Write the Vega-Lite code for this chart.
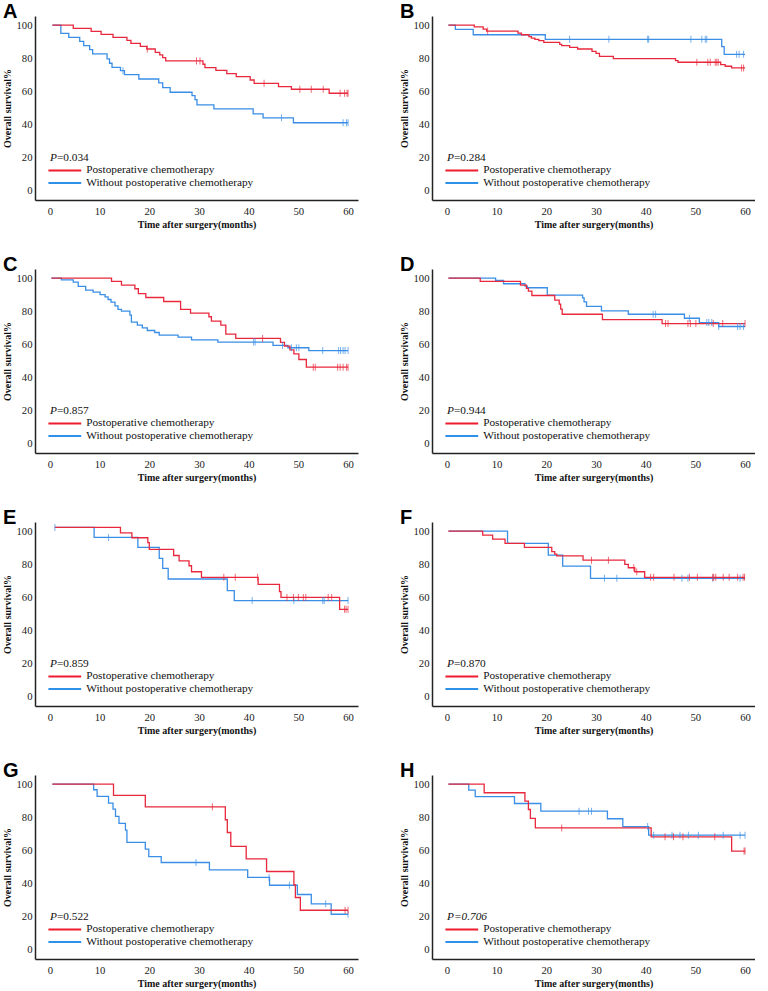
{
"$schema":"https://vega.github.io/schema/vega-lite/v6.json",
"padding":{"left":2,"top":2,"right":0,"bottom":0},
"background":"white",
"columns":2,
"spacing":{"row":25,"column":41},
"config":{
 "view":{"stroke":null},
 "axis":{"domainColor":"#222","domainWidth":1.5,"ticks":false,"grid":false,"labelOverlap":false,"labelFont":"Liberation Serif","labelFontSize":10.7,"labelColor":"#222","titleFont":"Liberation Serif","titleFontWeight":"bold","titleFontSize":10,"titleColor":"#111"},
 "axisY":{"labelPadding":3,"titlePadding":3},
 "axisX":{"labelPadding":6,"titlePadding":4},
 "title":{"anchor":"start","frame":"bounds","font":"Liberation Sans","fontSize":20,"fontWeight":"bold","color":"#000","offset":-6,"dx":0},
 "text":{"font":"Liberation Serif","fontSize":11.3,"baseline":"middle","align":"left","color":"#111"},
 "line":{"strokeWidth":1.3},
 "tick":{"size":7,"thickness":1},
 "rule":{"strokeWidth":2}
},
"datasets":{
"curves":[
{"p":"A","g":"none","t":0.5,"s":100},{"p":"A","g":"none","t":2.2,"s":95},{"p":"A","g":"none","t":3.8,"s":92.6},{"p":"A","g":"none","t":6,"s":90.2},{"p":"A","g":"none","t":6.8,"s":87.6},{"p":"A","g":"none","t":8,"s":85.2},{"p":"A","g":"none","t":8.6,"s":82.6},{"p":"A","g":"none","t":11.5,"s":79.6},{"p":"A","g":"none","t":12,"s":77},{"p":"A","g":"none","t":12.5,"s":74.5},{"p":"A","g":"none","t":14.2,"s":72.5},{"p":"A","g":"none","t":15,"s":70.1},{"p":"A","g":"none","t":17.9,"s":67.5},{"p":"A","g":"none","t":21.9,"s":65.1},{"p":"A","g":"none","t":22.7,"s":62.3},{"p":"A","g":"none","t":24.2,"s":59.5},{"p":"A","g":"none","t":28.6,"s":57.5},{"p":"A","g":"none","t":29.2,"s":55.1},{"p":"A","g":"none","t":29.6,"s":51.9},{"p":"A","g":"none","t":33,"s":49.5},{"p":"A","g":"none","t":40.9,"s":46.5},{"p":"A","g":"none","t":42.9,"s":44.1},{"p":"A","g":"none","t":49,"s":41.1},{"p":"A","g":"none","t":60,"s":41.1},
{"p":"A","g":"chemo","t":0.5,"s":100},{"p":"A","g":"chemo","t":4.7,"s":98},{"p":"A","g":"chemo","t":8.3,"s":96.2},{"p":"A","g":"chemo","t":10.3,"s":94.4},{"p":"A","g":"chemo","t":12.7,"s":92.6},{"p":"A","g":"chemo","t":15.5,"s":90.8},{"p":"A","g":"chemo","t":16.3,"s":89},{"p":"A","g":"chemo","t":18.2,"s":87.2},{"p":"A","g":"chemo","t":19.5,"s":85.6},{"p":"A","g":"chemo","t":21.2,"s":83.6},{"p":"A","g":"chemo","t":22.1,"s":82},{"p":"A","g":"chemo","t":22.7,"s":80.4},{"p":"A","g":"chemo","t":23.3,"s":78.4},{"p":"A","g":"chemo","t":30.8,"s":76.4},{"p":"A","g":"chemo","t":31.2,"s":74.4},{"p":"A","g":"chemo","t":33.4,"s":72.7},{"p":"A","g":"chemo","t":35.6,"s":70.7},{"p":"A","g":"chemo","t":37.5,"s":68.9},{"p":"A","g":"chemo","t":40.3,"s":66.9},{"p":"A","g":"chemo","t":41.1,"s":64.9},{"p":"A","g":"chemo","t":46,"s":62.9},{"p":"A","g":"chemo","t":48.6,"s":61.3},{"p":"A","g":"chemo","t":56.2,"s":58.9},{"p":"A","g":"chemo","t":60,"s":58.9},
{"p":"B","g":"none","t":0.3,"s":100},{"p":"B","g":"none","t":1.7,"s":97.4},{"p":"B","g":"none","t":5.3,"s":94.2},{"p":"B","g":"none","t":19.8,"s":91.4},{"p":"B","g":"none","t":55.3,"s":87},{"p":"B","g":"none","t":55.8,"s":82.4},{"p":"B","g":"none","t":60,"s":82.4},
{"p":"B","g":"chemo","t":0.3,"s":100},{"p":"B","g":"chemo","t":5.5,"s":99},{"p":"B","g":"chemo","t":7.3,"s":97.6},{"p":"B","g":"chemo","t":8,"s":96.4},{"p":"B","g":"chemo","t":14.3,"s":95.2},{"p":"B","g":"chemo","t":15,"s":94.2},{"p":"B","g":"chemo","t":16.5,"s":93},{"p":"B","g":"chemo","t":17,"s":92.2},{"p":"B","g":"chemo","t":17.7,"s":91.4},{"p":"B","g":"chemo","t":18.5,"s":90.6},{"p":"B","g":"chemo","t":19.5,"s":89.6},{"p":"B","g":"chemo","t":22.7,"s":88.4},{"p":"B","g":"chemo","t":23.1,"s":87.6},{"p":"B","g":"chemo","t":24.7,"s":86.6},{"p":"B","g":"chemo","t":26.3,"s":85.6},{"p":"B","g":"chemo","t":29.2,"s":84.2},{"p":"B","g":"chemo","t":30,"s":83},{"p":"B","g":"chemo","t":30.7,"s":81.2},{"p":"B","g":"chemo","t":33.5,"s":79.8},{"p":"B","g":"chemo","t":46,"s":78.6},{"p":"B","g":"chemo","t":46.5,"s":77.6},{"p":"B","g":"chemo","t":55.1,"s":76.2},{"p":"B","g":"chemo","t":56,"s":75.2},{"p":"B","g":"chemo","t":57.3,"s":74.2},{"p":"B","g":"chemo","t":60,"s":74.2},
{"p":"C","g":"none","t":0.3,"s":100},{"p":"C","g":"none","t":2.3,"s":99},{"p":"C","g":"none","t":4.7,"s":97.6},{"p":"C","g":"none","t":5.7,"s":95},{"p":"C","g":"none","t":7.2,"s":92.8},{"p":"C","g":"none","t":8.7,"s":91.5},{"p":"C","g":"none","t":10.1,"s":90.1},{"p":"C","g":"none","t":11.1,"s":88.7},{"p":"C","g":"none","t":11.7,"s":87.1},{"p":"C","g":"none","t":12.3,"s":85.5},{"p":"C","g":"none","t":13.1,"s":83.3},{"p":"C","g":"none","t":13.7,"s":81.1},{"p":"C","g":"none","t":14.4,"s":80.1},{"p":"C","g":"none","t":16.1,"s":77.7},{"p":"C","g":"none","t":16.4,"s":73.4},{"p":"C","g":"none","t":17.6,"s":71.6},{"p":"C","g":"none","t":18.6,"s":70},{"p":"C","g":"none","t":19.6,"s":68.4},{"p":"C","g":"none","t":21.1,"s":67.2},{"p":"C","g":"none","t":22,"s":65.6},{"p":"C","g":"none","t":25.8,"s":64.4},{"p":"C","g":"none","t":28.5,"s":62.8},{"p":"C","g":"none","t":33.8,"s":61.4},{"p":"C","g":"none","t":44.9,"s":59.4},{"p":"C","g":"none","t":47.9,"s":58},{"p":"C","g":"none","t":52.1,"s":56.3},{"p":"C","g":"none","t":60,"s":56.3},
{"p":"C","g":"chemo","t":0.3,"s":100},{"p":"C","g":"chemo","t":12.4,"s":98},{"p":"C","g":"chemo","t":14.4,"s":95.8},{"p":"C","g":"chemo","t":17.1,"s":93.6},{"p":"C","g":"chemo","t":17.8,"s":90.7},{"p":"C","g":"chemo","t":19.3,"s":88.3},{"p":"C","g":"chemo","t":22.9,"s":85.9},{"p":"C","g":"chemo","t":26.3,"s":81.1},{"p":"C","g":"chemo","t":28.3,"s":78.9},{"p":"C","g":"chemo","t":32,"s":76.7},{"p":"C","g":"chemo","t":32.5,"s":74},{"p":"C","g":"chemo","t":34.4,"s":71.6},{"p":"C","g":"chemo","t":35.4,"s":66.2},{"p":"C","g":"chemo","t":37.4,"s":63.6},{"p":"C","g":"chemo","t":46.4,"s":61.2},{"p":"C","g":"chemo","t":47.2,"s":59},{"p":"C","g":"chemo","t":48.3,"s":56.7},{"p":"C","g":"chemo","t":49.1,"s":54.3},{"p":"C","g":"chemo","t":50.1,"s":50.9},{"p":"C","g":"chemo","t":51.6,"s":46.3},{"p":"C","g":"chemo","t":60,"s":46.3},
{"p":"D","g":"none","t":0.3,"s":100},{"p":"D","g":"none","t":9.8,"s":98.6},{"p":"D","g":"none","t":11.4,"s":96.6},{"p":"D","g":"none","t":15.7,"s":95.2},{"p":"D","g":"none","t":16.2,"s":94.2},{"p":"D","g":"none","t":20.2,"s":89.7},{"p":"D","g":"none","t":27.3,"s":88.1},{"p":"D","g":"none","t":27.6,"s":85.7},{"p":"D","g":"none","t":28.1,"s":82.9},{"p":"D","g":"none","t":31.1,"s":80.2},{"p":"D","g":"none","t":36.5,"s":78.2},{"p":"D","g":"none","t":47.8,"s":75.8},{"p":"D","g":"none","t":50.8,"s":73.2},{"p":"D","g":"none","t":54.7,"s":70.8},{"p":"D","g":"none","t":60,"s":70.8},
{"p":"D","g":"chemo","t":0.3,"s":100},{"p":"D","g":"chemo","t":6.7,"s":98},{"p":"D","g":"chemo","t":14.8,"s":95.8},{"p":"D","g":"chemo","t":16,"s":93.8},{"p":"D","g":"chemo","t":16.4,"s":92.1},{"p":"D","g":"chemo","t":17.1,"s":89.5},{"p":"D","g":"chemo","t":21.7,"s":86.7},{"p":"D","g":"chemo","t":22.6,"s":84.3},{"p":"D","g":"chemo","t":22.9,"s":81.3},{"p":"D","g":"chemo","t":23.2,"s":78.2},{"p":"D","g":"chemo","t":31.3,"s":75},{"p":"D","g":"chemo","t":43.3,"s":72.6},{"p":"D","g":"chemo","t":60,"s":72.6},
{"p":"E","g":"none","t":1,"s":102.2},{"p":"E","g":"none","t":8.9,"s":96.2},{"p":"E","g":"none","t":17.7,"s":90.2},{"p":"E","g":"none","t":22,"s":83.5},{"p":"E","g":"none","t":22.7,"s":77.5},{"p":"E","g":"none","t":23.8,"s":71.1},{"p":"E","g":"none","t":35.7,"s":64.1},{"p":"E","g":"none","t":37.1,"s":58.1},{"p":"E","g":"none","t":60,"s":58.1},
{"p":"E","g":"chemo","t":1,"s":102.2},{"p":"E","g":"chemo","t":14.2,"s":99},{"p":"E","g":"chemo","t":16.5,"s":96},{"p":"E","g":"chemo","t":19.7,"s":93},{"p":"E","g":"chemo","t":20,"s":89},{"p":"E","g":"chemo","t":24.9,"s":85.3},{"p":"E","g":"chemo","t":26,"s":82.1},{"p":"E","g":"chemo","t":28,"s":79.1},{"p":"E","g":"chemo","t":28.5,"s":75.5},{"p":"E","g":"chemo","t":30.5,"s":72.1},{"p":"E","g":"chemo","t":41.9,"s":67.9},{"p":"E","g":"chemo","t":46.2,"s":63.5},{"p":"E","g":"chemo","t":46.5,"s":60},{"p":"E","g":"chemo","t":58.3,"s":52.8},{"p":"E","g":"chemo","t":60,"s":52.8},
{"p":"F","g":"none","t":0.3,"s":100},{"p":"F","g":"none","t":12.2,"s":92.6},{"p":"F","g":"none","t":20.4,"s":85.5},{"p":"F","g":"none","t":23.3,"s":78.9},{"p":"F","g":"none","t":28.9,"s":71.5},{"p":"F","g":"none","t":60,"s":71.5},
{"p":"F","g":"chemo","t":0.3,"s":100},{"p":"F","g":"chemo","t":7.2,"s":97.6},{"p":"F","g":"chemo","t":9.2,"s":95.2},{"p":"F","g":"chemo","t":11.7,"s":92.6},{"p":"F","g":"chemo","t":15.6,"s":90.2},{"p":"F","g":"chemo","t":21.1,"s":87.6},{"p":"F","g":"chemo","t":21.7,"s":86.1},{"p":"F","g":"chemo","t":22.1,"s":85.1},{"p":"F","g":"chemo","t":27.4,"s":82.5},{"p":"F","g":"chemo","t":35.8,"s":79.9},{"p":"F","g":"chemo","t":36.5,"s":77.9},{"p":"F","g":"chemo","t":37.8,"s":75.5},{"p":"F","g":"chemo","t":39.8,"s":72.1},{"p":"F","g":"chemo","t":60,"s":72.1},
{"p":"G","g":"none","t":0.5,"s":100},{"p":"G","g":"none","t":8.8,"s":96.6},{"p":"G","g":"none","t":9.5,"s":92.6},{"p":"G","g":"none","t":11.8,"s":88.5},{"p":"G","g":"none","t":12.7,"s":84.9},{"p":"G","g":"none","t":13.2,"s":80.5},{"p":"G","g":"none","t":13.9,"s":76.3},{"p":"G","g":"none","t":15.2,"s":72.2},{"p":"G","g":"none","t":15.5,"s":64.8},{"p":"G","g":"none","t":19.2,"s":60.8},{"p":"G","g":"none","t":19.9,"s":56.3},{"p":"G","g":"none","t":22.4,"s":52.7},{"p":"G","g":"none","t":32.1,"s":48.3},{"p":"G","g":"none","t":39.8,"s":43.7},{"p":"G","g":"none","t":44.2,"s":39},{"p":"G","g":"none","t":49.8,"s":33.4},{"p":"G","g":"none","t":52.6,"s":27.8},{"p":"G","g":"none","t":56.6,"s":21.5},{"p":"G","g":"none","t":60,"s":21.5},
{"p":"G","g":"chemo","t":0.5,"s":100},{"p":"G","g":"chemo","t":12.8,"s":93.2},{"p":"G","g":"chemo","t":19.2,"s":86.3},{"p":"G","g":"chemo","t":35.3,"s":78.5},{"p":"G","g":"chemo","t":35.7,"s":70.8},{"p":"G","g":"chemo","t":36.4,"s":62.4},{"p":"G","g":"chemo","t":39.5,"s":54.9},{"p":"G","g":"chemo","t":43.6,"s":47.3},{"p":"G","g":"chemo","t":49.1,"s":39.2},{"p":"G","g":"chemo","t":49.4,"s":31.6},{"p":"G","g":"chemo","t":50.4,"s":23.9},{"p":"G","g":"chemo","t":60,"s":23.9},
{"p":"H","g":"none","t":0.3,"s":100},{"p":"H","g":"none","t":4.4,"s":96.4},{"p":"H","g":"none","t":5.7,"s":92.4},{"p":"H","g":"none","t":13.6,"s":88.3},{"p":"H","g":"none","t":18.9,"s":83.7},{"p":"H","g":"none","t":32.3,"s":79.1},{"p":"H","g":"none","t":35.4,"s":74.4},{"p":"H","g":"none","t":40.6,"s":69.2},{"p":"H","g":"none","t":60,"s":69.2},
{"p":"H","g":"chemo","t":0.3,"s":100},{"p":"H","g":"chemo","t":7.5,"s":94.8},{"p":"H","g":"chemo","t":15.7,"s":89.7},{"p":"H","g":"chemo","t":16.4,"s":84.7},{"p":"H","g":"chemo","t":16.8,"s":79.3},{"p":"H","g":"chemo","t":17.8,"s":73.6},{"p":"H","g":"chemo","t":41.1,"s":68.2},{"p":"H","g":"chemo","t":57.3,"s":59.6},{"p":"H","g":"chemo","t":60,"s":59.6}
],
"censors":[
{"p":"A","g":"none","t":14.7,"s":72.5},{"p":"A","g":"none","t":46.6,"s":44.1},{"p":"A","g":"none","t":59,"s":41.1},{"p":"A","g":"none","t":59.7,"s":41.1},{"p":"A","g":"none","t":60,"s":41.1},
{"p":"A","g":"chemo","t":19.6,"s":85.6},{"p":"A","g":"chemo","t":29.5,"s":78.4},{"p":"A","g":"chemo","t":30.2,"s":78.4},{"p":"A","g":"chemo","t":43.1,"s":64.9},{"p":"A","g":"chemo","t":50.3,"s":61.3},{"p":"A","g":"chemo","t":52.6,"s":61.3},{"p":"A","g":"chemo","t":55,"s":61.3},{"p":"A","g":"chemo","t":58.4,"s":58.9},{"p":"A","g":"chemo","t":59.3,"s":58.9},{"p":"A","g":"chemo","t":59.8,"s":58.9},{"p":"A","g":"chemo","t":60,"s":58.9},
{"p":"B","g":"none","t":24.7,"s":91.4},{"p":"B","g":"none","t":32.6,"s":91.4},{"p":"B","g":"none","t":40.4,"s":91.4},{"p":"B","g":"none","t":40.6,"s":91.4},{"p":"B","g":"none","t":49.1,"s":91.4},{"p":"B","g":"none","t":51.3,"s":91.4},{"p":"B","g":"none","t":52,"s":91.4},{"p":"B","g":"none","t":52.3,"s":91.4},{"p":"B","g":"none","t":58.3,"s":82.4},{"p":"B","g":"none","t":58.8,"s":82.4},{"p":"B","g":"none","t":59.7,"s":82.4},
{"p":"B","g":"chemo","t":8.2,"s":96.4},{"p":"B","g":"chemo","t":50.3,"s":77.6},{"p":"B","g":"chemo","t":52.5,"s":77.6},{"p":"B","g":"chemo","t":53,"s":77.6},{"p":"B","g":"chemo","t":54,"s":77.6},{"p":"B","g":"chemo","t":54.3,"s":77.6},{"p":"B","g":"chemo","t":54.6,"s":77.6},{"p":"B","g":"chemo","t":59.3,"s":74.2},{"p":"B","g":"chemo","t":59.7,"s":74.2},
{"p":"C","g":"none","t":41,"s":61.4},{"p":"C","g":"none","t":41.3,"s":61.4},{"p":"C","g":"none","t":46.8,"s":59.4},{"p":"C","g":"none","t":48.6,"s":58},{"p":"C","g":"none","t":49.6,"s":58},{"p":"C","g":"none","t":50.1,"s":58},{"p":"C","g":"none","t":54.9,"s":56.3},{"p":"C","g":"none","t":58.1,"s":56.3},{"p":"C","g":"none","t":58.5,"s":56.3},{"p":"C","g":"none","t":59,"s":56.3},{"p":"C","g":"none","t":59.4,"s":56.3},{"p":"C","g":"none","t":60,"s":56.3},
{"p":"C","g":"chemo","t":42.8,"s":63.6},{"p":"C","g":"chemo","t":53,"s":46.3},{"p":"C","g":"chemo","t":53.4,"s":46.3},{"p":"C","g":"chemo","t":57.9,"s":46.3},{"p":"C","g":"chemo","t":58.4,"s":46.3},{"p":"C","g":"chemo","t":59,"s":46.3},{"p":"C","g":"chemo","t":59.7,"s":46.3},{"p":"C","g":"chemo","t":60,"s":46.3},
{"p":"D","g":"none","t":41.5,"s":78.2},{"p":"D","g":"none","t":42,"s":78.2},{"p":"D","g":"none","t":48.8,"s":75.8},{"p":"D","g":"none","t":52.3,"s":73.2},{"p":"D","g":"none","t":52.7,"s":73.2},{"p":"D","g":"none","t":53.3,"s":73.2},{"p":"D","g":"none","t":54.7,"s":70.8},{"p":"D","g":"none","t":58.5,"s":70.8},{"p":"D","g":"none","t":59,"s":70.8},{"p":"D","g":"none","t":59.7,"s":70.8},
{"p":"D","g":"chemo","t":44,"s":72.6},{"p":"D","g":"chemo","t":44.5,"s":72.6},{"p":"D","g":"chemo","t":48.5,"s":72.6},{"p":"D","g":"chemo","t":49,"s":72.6},{"p":"D","g":"chemo","t":50.1,"s":72.6},{"p":"D","g":"chemo","t":53.6,"s":72.6},{"p":"D","g":"chemo","t":55.5,"s":72.6},{"p":"D","g":"chemo","t":60,"s":72.6},
{"p":"E","g":"none","t":1,"s":102.2},{"p":"E","g":"none","t":11.8,"s":96.2},{"p":"E","g":"none","t":40.7,"s":58.1},{"p":"E","g":"none","t":49.1,"s":58.1},{"p":"E","g":"none","t":54.9,"s":58.1},{"p":"E","g":"none","t":55.2,"s":58.1},{"p":"E","g":"none","t":60,"s":58.1},
{"p":"E","g":"chemo","t":35,"s":72.1},{"p":"E","g":"chemo","t":37.3,"s":72.1},{"p":"E","g":"chemo","t":41.8,"s":72.1},{"p":"E","g":"chemo","t":47.7,"s":60},{"p":"E","g":"chemo","t":49,"s":60},{"p":"E","g":"chemo","t":50,"s":60},{"p":"E","g":"chemo","t":51,"s":60},{"p":"E","g":"chemo","t":51.5,"s":60},{"p":"E","g":"chemo","t":56,"s":60},{"p":"E","g":"chemo","t":56.7,"s":60},{"p":"E","g":"chemo","t":59.3,"s":52.8},{"p":"E","g":"chemo","t":59.6,"s":52.8},{"p":"E","g":"chemo","t":60,"s":52.8},
{"p":"F","g":"none","t":31.7,"s":71.5},{"p":"F","g":"none","t":34.2,"s":71.5},{"p":"F","g":"none","t":47.3,"s":71.5},{"p":"F","g":"none","t":48.5,"s":71.5},{"p":"F","g":"none","t":53.5,"s":71.5},{"p":"F","g":"none","t":59,"s":71.5},
{"p":"F","g":"chemo","t":29.1,"s":82.5},{"p":"F","g":"chemo","t":32.5,"s":82.5},{"p":"F","g":"chemo","t":37.6,"s":77.9},{"p":"F","g":"chemo","t":38.2,"s":75.5},{"p":"F","g":"chemo","t":41,"s":72.1},{"p":"F","g":"chemo","t":41.6,"s":72.1},{"p":"F","g":"chemo","t":45.7,"s":72.1},{"p":"F","g":"chemo","t":48.8,"s":72.1},{"p":"F","g":"chemo","t":50.4,"s":72.1},{"p":"F","g":"chemo","t":53.5,"s":72.1},{"p":"F","g":"chemo","t":53.7,"s":72.1},{"p":"F","g":"chemo","t":54.1,"s":72.1},{"p":"F","g":"chemo","t":55.6,"s":72.1},{"p":"F","g":"chemo","t":56.8,"s":72.1},{"p":"F","g":"chemo","t":58.5,"s":72.1},{"p":"F","g":"chemo","t":59.6,"s":72.1},{"p":"F","g":"chemo","t":59.9,"s":72.1},
{"p":"G","g":"none","t":29.4,"s":52.7},{"p":"G","g":"none","t":44.1,"s":43.7},{"p":"G","g":"none","t":48.2,"s":39},{"p":"G","g":"none","t":55.5,"s":27.8},{"p":"G","g":"none","t":60,"s":21.5},
{"p":"G","g":"chemo","t":32.7,"s":86.3},{"p":"G","g":"chemo","t":59.4,"s":23.9},{"p":"G","g":"chemo","t":60,"s":23.9},
{"p":"H","g":"none","t":26.6,"s":83.7},{"p":"H","g":"none","t":28.5,"s":83.7},{"p":"H","g":"none","t":29.1,"s":83.7},{"p":"H","g":"none","t":40.4,"s":74.4},{"p":"H","g":"none","t":41.6,"s":69.2},{"p":"H","g":"none","t":45.3,"s":69.2},{"p":"H","g":"none","t":46.9,"s":69.2},{"p":"H","g":"none","t":48.6,"s":69.2},{"p":"H","g":"none","t":50.6,"s":69.2},{"p":"H","g":"none","t":55.6,"s":69.2},{"p":"H","g":"none","t":59,"s":69.2},{"p":"H","g":"none","t":60,"s":69.2},
{"p":"H","g":"chemo","t":23.1,"s":73.6},{"p":"H","g":"chemo","t":43.9,"s":68.2},{"p":"H","g":"chemo","t":45.6,"s":68.2},{"p":"H","g":"chemo","t":47.5,"s":68.2},{"p":"H","g":"chemo","t":53.9,"s":68.2},{"p":"H","g":"chemo","t":59.8,"s":59.6},{"p":"H","g":"chemo","t":60,"s":59.6}
],
"labels":[
{"p":"A","pv":"=0.034"},{"p":"B","pv":"=0.284"},{"p":"C","pv":"=0.857"},{"p":"D","pv":"=0.944"},
{"p":"E","pv":"=0.859"},{"p":"F","pv":"=0.870"},{"p":"G","pv":"=0.522"},{"p":"H","pv":"=0.706"}
]
},
"concat":[
{"title":"A","width":323,"height":184,
 "layer":[
  {"data":{"name":"curves"},"transform":[{"filter":"datum.p==='A'"}],"mark":{"type":"line","interpolate":"step-after"},
   "encoding":{"x":{"field":"t","type":"quantitative","scale":{"domain":[-3,62],"nice":false,"zero":false},"axis":{"title":"Time after surgery(months)","values":[0,10,20,30,40,50,60]}},"y":{"field":"s","type":"quantitative","scale":{"domain":[-5.5,105.5],"nice":false,"zero":false},"axis":{"title":"Overall survival%","values":[0,20,40,60,80,100]}},"color":{"field":"g","type":"nominal","scale":{"domain":["chemo","none"],"range":["#e8283c","#3a8ee6"]},"legend":null}}},
  {"data":{"name":"censors"},"transform":[{"filter":"datum.p==='A'"}],"mark":{"type":"tick","orient":"vertical"},
   "encoding":{"x":{"field":"t","type":"quantitative","axis":{"title":"Time after surgery(months)","values":[0,10,20,30,40,50,60]}},"y":{"field":"s","type":"quantitative","axis":{"title":"Overall survival%","values":[0,20,40,60,80,100]}},"color":{"field":"g","type":"nominal","legend":null}}},
  {"data":{"name":"labels"},"transform":[{"filter":"datum.p==='A'"}],"mark":{"type":"text","fontStyle":"italic"},"encoding":{"x":{"datum":0,"type":"quantitative","axis":{"title":"Time after surgery(months)","values":[0,10,20,30,40,50,60]}},"y":{"datum":20,"type":"quantitative","axis":{"title":"Overall survival%","values":[0,20,40,60,80,100]}},"text":{"value":"P"}}},
  {"data":{"name":"labels"},"transform":[{"filter":"datum.p==='A'"}],"mark":{"type":"text","dx":7},"encoding":{"x":{"datum":0,"type":"quantitative","axis":{"title":"Time after surgery(months)","values":[0,10,20,30,40,50,60]}},"y":{"datum":20,"type":"quantitative","axis":{"title":"Overall survival%","values":[0,20,40,60,80,100]}},"text":{"field":"pv"}}},
  {"data":{"name":"labels"},"transform":[{"filter":"datum.p==='A'"}],"mark":{"type":"rule","color":"#ee1c2e"},"encoding":{"x":{"datum":-0.3,"type":"quantitative","axis":{"title":"Time after surgery(months)","values":[0,10,20,30,40,50,60]}},"x2":{"datum":6.3},"y":{"datum":12.3,"type":"quantitative","axis":{"title":"Overall survival%","values":[0,20,40,60,80,100]}}}},
  {"data":{"name":"labels"},"transform":[{"filter":"datum.p==='A'"}],"mark":{"type":"rule","color":"#2e90e8"},"encoding":{"x":{"datum":-0.3,"type":"quantitative","axis":{"title":"Time after surgery(months)","values":[0,10,20,30,40,50,60]}},"x2":{"datum":6.3},"y":{"datum":4.7,"type":"quantitative","axis":{"title":"Overall survival%","values":[0,20,40,60,80,100]}}}},
  {"data":{"name":"labels"},"transform":[{"filter":"datum.p==='A'"}],"mark":{"type":"text"},"encoding":{"x":{"datum":7.3,"type":"quantitative","axis":{"title":"Time after surgery(months)","values":[0,10,20,30,40,50,60]}},"y":{"datum":12.3,"type":"quantitative","axis":{"title":"Overall survival%","values":[0,20,40,60,80,100]}},"text":{"value":"Postoperative chemotherapy"}}},
  {"data":{"name":"labels"},"transform":[{"filter":"datum.p==='A'"}],"mark":{"type":"text"},"encoding":{"x":{"datum":7.3,"type":"quantitative","axis":{"title":"Time after surgery(months)","values":[0,10,20,30,40,50,60]}},"y":{"datum":4.7,"type":"quantitative","axis":{"title":"Overall survival%","values":[0,20,40,60,80,100]}},"text":{"value":"Without postoperative chemotherapy"}}}
 ]},
{"title":"B","width":323,"height":184,
 "layer":[
  {"data":{"name":"curves"},"transform":[{"filter":"datum.p==='B'"}],"mark":{"type":"line","interpolate":"step-after"},
   "encoding":{"x":{"field":"t","type":"quantitative","scale":{"domain":[-3,62],"nice":false,"zero":false},"axis":{"title":"Time after surgery(months)","values":[0,10,20,30,40,50,60]}},"y":{"field":"s","type":"quantitative","scale":{"domain":[-5.5,105.5],"nice":false,"zero":false},"axis":{"title":"Overall survival%","values":[0,20,40,60,80,100]}},"color":{"field":"g","type":"nominal","scale":{"domain":["chemo","none"],"range":["#e8283c","#3a8ee6"]},"legend":null}}},
  {"data":{"name":"censors"},"transform":[{"filter":"datum.p==='B'"}],"mark":{"type":"tick","orient":"vertical"},
   "encoding":{"x":{"field":"t","type":"quantitative","axis":{"title":"Time after surgery(months)","values":[0,10,20,30,40,50,60]}},"y":{"field":"s","type":"quantitative","axis":{"title":"Overall survival%","values":[0,20,40,60,80,100]}},"color":{"field":"g","type":"nominal","legend":null}}},
  {"data":{"name":"labels"},"transform":[{"filter":"datum.p==='B'"}],"mark":{"type":"text","fontStyle":"italic"},"encoding":{"x":{"datum":0,"type":"quantitative","axis":{"title":"Time after surgery(months)","values":[0,10,20,30,40,50,60]}},"y":{"datum":20,"type":"quantitative","axis":{"title":"Overall survival%","values":[0,20,40,60,80,100]}},"text":{"value":"P"}}},
  {"data":{"name":"labels"},"transform":[{"filter":"datum.p==='B'"}],"mark":{"type":"text","dx":7},"encoding":{"x":{"datum":0,"type":"quantitative","axis":{"title":"Time after surgery(months)","values":[0,10,20,30,40,50,60]}},"y":{"datum":20,"type":"quantitative","axis":{"title":"Overall survival%","values":[0,20,40,60,80,100]}},"text":{"field":"pv"}}},
  {"data":{"name":"labels"},"transform":[{"filter":"datum.p==='B'"}],"mark":{"type":"rule","color":"#ee1c2e"},"encoding":{"x":{"datum":-0.3,"type":"quantitative","axis":{"title":"Time after surgery(months)","values":[0,10,20,30,40,50,60]}},"x2":{"datum":6.3},"y":{"datum":12.3,"type":"quantitative","axis":{"title":"Overall survival%","values":[0,20,40,60,80,100]}}}},
  {"data":{"name":"labels"},"transform":[{"filter":"datum.p==='B'"}],"mark":{"type":"rule","color":"#2e90e8"},"encoding":{"x":{"datum":-0.3,"type":"quantitative","axis":{"title":"Time after surgery(months)","values":[0,10,20,30,40,50,60]}},"x2":{"datum":6.3},"y":{"datum":4.7,"type":"quantitative","axis":{"title":"Overall survival%","values":[0,20,40,60,80,100]}}}},
  {"data":{"name":"labels"},"transform":[{"filter":"datum.p==='B'"}],"mark":{"type":"text"},"encoding":{"x":{"datum":7.3,"type":"quantitative","axis":{"title":"Time after surgery(months)","values":[0,10,20,30,40,50,60]}},"y":{"datum":12.3,"type":"quantitative","axis":{"title":"Overall survival%","values":[0,20,40,60,80,100]}},"text":{"value":"Postoperative chemotherapy"}}},
  {"data":{"name":"labels"},"transform":[{"filter":"datum.p==='B'"}],"mark":{"type":"text"},"encoding":{"x":{"datum":7.3,"type":"quantitative","axis":{"title":"Time after surgery(months)","values":[0,10,20,30,40,50,60]}},"y":{"datum":4.7,"type":"quantitative","axis":{"title":"Overall survival%","values":[0,20,40,60,80,100]}},"text":{"value":"Without postoperative chemotherapy"}}}
 ]},
{"title":"C","width":323,"height":184,
 "layer":[
  {"data":{"name":"curves"},"transform":[{"filter":"datum.p==='C'"}],"mark":{"type":"line","interpolate":"step-after"},
   "encoding":{"x":{"field":"t","type":"quantitative","scale":{"domain":[-3,62],"nice":false,"zero":false},"axis":{"title":"Time after surgery(months)","values":[0,10,20,30,40,50,60]}},"y":{"field":"s","type":"quantitative","scale":{"domain":[-5.5,105.5],"nice":false,"zero":false},"axis":{"title":"Overall survival%","values":[0,20,40,60,80,100]}},"color":{"field":"g","type":"nominal","scale":{"domain":["chemo","none"],"range":["#e8283c","#3a8ee6"]},"legend":null}}},
  {"data":{"name":"censors"},"transform":[{"filter":"datum.p==='C'"}],"mark":{"type":"tick","orient":"vertical"},
   "encoding":{"x":{"field":"t","type":"quantitative","axis":{"title":"Time after surgery(months)","values":[0,10,20,30,40,50,60]}},"y":{"field":"s","type":"quantitative","axis":{"title":"Overall survival%","values":[0,20,40,60,80,100]}},"color":{"field":"g","type":"nominal","legend":null}}},
  {"data":{"name":"labels"},"transform":[{"filter":"datum.p==='C'"}],"mark":{"type":"text","fontStyle":"italic"},"encoding":{"x":{"datum":0,"type":"quantitative","axis":{"title":"Time after surgery(months)","values":[0,10,20,30,40,50,60]}},"y":{"datum":20,"type":"quantitative","axis":{"title":"Overall survival%","values":[0,20,40,60,80,100]}},"text":{"value":"P"}}},
  {"data":{"name":"labels"},"transform":[{"filter":"datum.p==='C'"}],"mark":{"type":"text","dx":7},"encoding":{"x":{"datum":0,"type":"quantitative","axis":{"title":"Time after surgery(months)","values":[0,10,20,30,40,50,60]}},"y":{"datum":20,"type":"quantitative","axis":{"title":"Overall survival%","values":[0,20,40,60,80,100]}},"text":{"field":"pv"}}},
  {"data":{"name":"labels"},"transform":[{"filter":"datum.p==='C'"}],"mark":{"type":"rule","color":"#ee1c2e"},"encoding":{"x":{"datum":-0.3,"type":"quantitative","axis":{"title":"Time after surgery(months)","values":[0,10,20,30,40,50,60]}},"x2":{"datum":6.3},"y":{"datum":12.3,"type":"quantitative","axis":{"title":"Overall survival%","values":[0,20,40,60,80,100]}}}},
  {"data":{"name":"labels"},"transform":[{"filter":"datum.p==='C'"}],"mark":{"type":"rule","color":"#2e90e8"},"encoding":{"x":{"datum":-0.3,"type":"quantitative","axis":{"title":"Time after surgery(months)","values":[0,10,20,30,40,50,60]}},"x2":{"datum":6.3},"y":{"datum":4.7,"type":"quantitative","axis":{"title":"Overall survival%","values":[0,20,40,60,80,100]}}}},
  {"data":{"name":"labels"},"transform":[{"filter":"datum.p==='C'"}],"mark":{"type":"text"},"encoding":{"x":{"datum":7.3,"type":"quantitative","axis":{"title":"Time after surgery(months)","values":[0,10,20,30,40,50,60]}},"y":{"datum":12.3,"type":"quantitative","axis":{"title":"Overall survival%","values":[0,20,40,60,80,100]}},"text":{"value":"Postoperative chemotherapy"}}},
  {"data":{"name":"labels"},"transform":[{"filter":"datum.p==='C'"}],"mark":{"type":"text"},"encoding":{"x":{"datum":7.3,"type":"quantitative","axis":{"title":"Time after surgery(months)","values":[0,10,20,30,40,50,60]}},"y":{"datum":4.7,"type":"quantitative","axis":{"title":"Overall survival%","values":[0,20,40,60,80,100]}},"text":{"value":"Without postoperative chemotherapy"}}}
 ]},
{"title":"D","width":323,"height":184,
 "layer":[
  {"data":{"name":"curves"},"transform":[{"filter":"datum.p==='D'"}],"mark":{"type":"line","interpolate":"step-after"},
   "encoding":{"x":{"field":"t","type":"quantitative","scale":{"domain":[-3,62],"nice":false,"zero":false},"axis":{"title":"Time after surgery(months)","values":[0,10,20,30,40,50,60]}},"y":{"field":"s","type":"quantitative","scale":{"domain":[-5.5,105.5],"nice":false,"zero":false},"axis":{"title":"Overall survival%","values":[0,20,40,60,80,100]}},"color":{"field":"g","type":"nominal","scale":{"domain":["chemo","none"],"range":["#e8283c","#3a8ee6"]},"legend":null}}},
  {"data":{"name":"censors"},"transform":[{"filter":"datum.p==='D'"}],"mark":{"type":"tick","orient":"vertical"},
   "encoding":{"x":{"field":"t","type":"quantitative","axis":{"title":"Time after surgery(months)","values":[0,10,20,30,40,50,60]}},"y":{"field":"s","type":"quantitative","axis":{"title":"Overall survival%","values":[0,20,40,60,80,100]}},"color":{"field":"g","type":"nominal","legend":null}}},
  {"data":{"name":"labels"},"transform":[{"filter":"datum.p==='D'"}],"mark":{"type":"text","fontStyle":"italic"},"encoding":{"x":{"datum":0,"type":"quantitative","axis":{"title":"Time after surgery(months)","values":[0,10,20,30,40,50,60]}},"y":{"datum":20,"type":"quantitative","axis":{"title":"Overall survival%","values":[0,20,40,60,80,100]}},"text":{"value":"P"}}},
  {"data":{"name":"labels"},"transform":[{"filter":"datum.p==='D'"}],"mark":{"type":"text","dx":7},"encoding":{"x":{"datum":0,"type":"quantitative","axis":{"title":"Time after surgery(months)","values":[0,10,20,30,40,50,60]}},"y":{"datum":20,"type":"quantitative","axis":{"title":"Overall survival%","values":[0,20,40,60,80,100]}},"text":{"field":"pv"}}},
  {"data":{"name":"labels"},"transform":[{"filter":"datum.p==='D'"}],"mark":{"type":"rule","color":"#ee1c2e"},"encoding":{"x":{"datum":-0.3,"type":"quantitative","axis":{"title":"Time after surgery(months)","values":[0,10,20,30,40,50,60]}},"x2":{"datum":6.3},"y":{"datum":12.3,"type":"quantitative","axis":{"title":"Overall survival%","values":[0,20,40,60,80,100]}}}},
  {"data":{"name":"labels"},"transform":[{"filter":"datum.p==='D'"}],"mark":{"type":"rule","color":"#2e90e8"},"encoding":{"x":{"datum":-0.3,"type":"quantitative","axis":{"title":"Time after surgery(months)","values":[0,10,20,30,40,50,60]}},"x2":{"datum":6.3},"y":{"datum":4.7,"type":"quantitative","axis":{"title":"Overall survival%","values":[0,20,40,60,80,100]}}}},
  {"data":{"name":"labels"},"transform":[{"filter":"datum.p==='D'"}],"mark":{"type":"text"},"encoding":{"x":{"datum":7.3,"type":"quantitative","axis":{"title":"Time after surgery(months)","values":[0,10,20,30,40,50,60]}},"y":{"datum":12.3,"type":"quantitative","axis":{"title":"Overall survival%","values":[0,20,40,60,80,100]}},"text":{"value":"Postoperative chemotherapy"}}},
  {"data":{"name":"labels"},"transform":[{"filter":"datum.p==='D'"}],"mark":{"type":"text"},"encoding":{"x":{"datum":7.3,"type":"quantitative","axis":{"title":"Time after surgery(months)","values":[0,10,20,30,40,50,60]}},"y":{"datum":4.7,"type":"quantitative","axis":{"title":"Overall survival%","values":[0,20,40,60,80,100]}},"text":{"value":"Without postoperative chemotherapy"}}}
 ]},
{"title":"E","width":323,"height":184,
 "layer":[
  {"data":{"name":"curves"},"transform":[{"filter":"datum.p==='E'"}],"mark":{"type":"line","interpolate":"step-after"},
   "encoding":{"x":{"field":"t","type":"quantitative","scale":{"domain":[-3,62],"nice":false,"zero":false},"axis":{"title":"Time after surgery(months)","values":[0,10,20,30,40,50,60]}},"y":{"field":"s","type":"quantitative","scale":{"domain":[-5.5,105.5],"nice":false,"zero":false},"axis":{"title":"Overall survival%","values":[0,20,40,60,80,100]}},"color":{"field":"g","type":"nominal","scale":{"domain":["chemo","none"],"range":["#e8283c","#3a8ee6"]},"legend":null}}},
  {"data":{"name":"censors"},"transform":[{"filter":"datum.p==='E'"}],"mark":{"type":"tick","orient":"vertical"},
   "encoding":{"x":{"field":"t","type":"quantitative","axis":{"title":"Time after surgery(months)","values":[0,10,20,30,40,50,60]}},"y":{"field":"s","type":"quantitative","axis":{"title":"Overall survival%","values":[0,20,40,60,80,100]}},"color":{"field":"g","type":"nominal","legend":null}}},
  {"data":{"name":"labels"},"transform":[{"filter":"datum.p==='E'"}],"mark":{"type":"text","fontStyle":"italic"},"encoding":{"x":{"datum":0,"type":"quantitative","axis":{"title":"Time after surgery(months)","values":[0,10,20,30,40,50,60]}},"y":{"datum":20,"type":"quantitative","axis":{"title":"Overall survival%","values":[0,20,40,60,80,100]}},"text":{"value":"P"}}},
  {"data":{"name":"labels"},"transform":[{"filter":"datum.p==='E'"}],"mark":{"type":"text","dx":7},"encoding":{"x":{"datum":0,"type":"quantitative","axis":{"title":"Time after surgery(months)","values":[0,10,20,30,40,50,60]}},"y":{"datum":20,"type":"quantitative","axis":{"title":"Overall survival%","values":[0,20,40,60,80,100]}},"text":{"field":"pv"}}},
  {"data":{"name":"labels"},"transform":[{"filter":"datum.p==='E'"}],"mark":{"type":"rule","color":"#ee1c2e"},"encoding":{"x":{"datum":-0.3,"type":"quantitative","axis":{"title":"Time after surgery(months)","values":[0,10,20,30,40,50,60]}},"x2":{"datum":6.3},"y":{"datum":12.3,"type":"quantitative","axis":{"title":"Overall survival%","values":[0,20,40,60,80,100]}}}},
  {"data":{"name":"labels"},"transform":[{"filter":"datum.p==='E'"}],"mark":{"type":"rule","color":"#2e90e8"},"encoding":{"x":{"datum":-0.3,"type":"quantitative","axis":{"title":"Time after surgery(months)","values":[0,10,20,30,40,50,60]}},"x2":{"datum":6.3},"y":{"datum":4.7,"type":"quantitative","axis":{"title":"Overall survival%","values":[0,20,40,60,80,100]}}}},
  {"data":{"name":"labels"},"transform":[{"filter":"datum.p==='E'"}],"mark":{"type":"text"},"encoding":{"x":{"datum":7.3,"type":"quantitative","axis":{"title":"Time after surgery(months)","values":[0,10,20,30,40,50,60]}},"y":{"datum":12.3,"type":"quantitative","axis":{"title":"Overall survival%","values":[0,20,40,60,80,100]}},"text":{"value":"Postoperative chemotherapy"}}},
  {"data":{"name":"labels"},"transform":[{"filter":"datum.p==='E'"}],"mark":{"type":"text"},"encoding":{"x":{"datum":7.3,"type":"quantitative","axis":{"title":"Time after surgery(months)","values":[0,10,20,30,40,50,60]}},"y":{"datum":4.7,"type":"quantitative","axis":{"title":"Overall survival%","values":[0,20,40,60,80,100]}},"text":{"value":"Without postoperative chemotherapy"}}}
 ]},
{"title":"F","width":323,"height":184,
 "layer":[
  {"data":{"name":"curves"},"transform":[{"filter":"datum.p==='F'"}],"mark":{"type":"line","interpolate":"step-after"},
   "encoding":{"x":{"field":"t","type":"quantitative","scale":{"domain":[-3,62],"nice":false,"zero":false},"axis":{"title":"Time after surgery(months)","values":[0,10,20,30,40,50,60]}},"y":{"field":"s","type":"quantitative","scale":{"domain":[-5.5,105.5],"nice":false,"zero":false},"axis":{"title":"Overall survival%","values":[0,20,40,60,80,100]}},"color":{"field":"g","type":"nominal","scale":{"domain":["chemo","none"],"range":["#e8283c","#3a8ee6"]},"legend":null}}},
  {"data":{"name":"censors"},"transform":[{"filter":"datum.p==='F'"}],"mark":{"type":"tick","orient":"vertical"},
   "encoding":{"x":{"field":"t","type":"quantitative","axis":{"title":"Time after surgery(months)","values":[0,10,20,30,40,50,60]}},"y":{"field":"s","type":"quantitative","axis":{"title":"Overall survival%","values":[0,20,40,60,80,100]}},"color":{"field":"g","type":"nominal","legend":null}}},
  {"data":{"name":"labels"},"transform":[{"filter":"datum.p==='F'"}],"mark":{"type":"text","fontStyle":"italic"},"encoding":{"x":{"datum":0,"type":"quantitative","axis":{"title":"Time after surgery(months)","values":[0,10,20,30,40,50,60]}},"y":{"datum":20,"type":"quantitative","axis":{"title":"Overall survival%","values":[0,20,40,60,80,100]}},"text":{"value":"P"}}},
  {"data":{"name":"labels"},"transform":[{"filter":"datum.p==='F'"}],"mark":{"type":"text","dx":7},"encoding":{"x":{"datum":0,"type":"quantitative","axis":{"title":"Time after surgery(months)","values":[0,10,20,30,40,50,60]}},"y":{"datum":20,"type":"quantitative","axis":{"title":"Overall survival%","values":[0,20,40,60,80,100]}},"text":{"field":"pv"}}},
  {"data":{"name":"labels"},"transform":[{"filter":"datum.p==='F'"}],"mark":{"type":"rule","color":"#ee1c2e"},"encoding":{"x":{"datum":-0.3,"type":"quantitative","axis":{"title":"Time after surgery(months)","values":[0,10,20,30,40,50,60]}},"x2":{"datum":6.3},"y":{"datum":12.3,"type":"quantitative","axis":{"title":"Overall survival%","values":[0,20,40,60,80,100]}}}},
  {"data":{"name":"labels"},"transform":[{"filter":"datum.p==='F'"}],"mark":{"type":"rule","color":"#2e90e8"},"encoding":{"x":{"datum":-0.3,"type":"quantitative","axis":{"title":"Time after surgery(months)","values":[0,10,20,30,40,50,60]}},"x2":{"datum":6.3},"y":{"datum":4.7,"type":"quantitative","axis":{"title":"Overall survival%","values":[0,20,40,60,80,100]}}}},
  {"data":{"name":"labels"},"transform":[{"filter":"datum.p==='F'"}],"mark":{"type":"text"},"encoding":{"x":{"datum":7.3,"type":"quantitative","axis":{"title":"Time after surgery(months)","values":[0,10,20,30,40,50,60]}},"y":{"datum":12.3,"type":"quantitative","axis":{"title":"Overall survival%","values":[0,20,40,60,80,100]}},"text":{"value":"Postoperative chemotherapy"}}},
  {"data":{"name":"labels"},"transform":[{"filter":"datum.p==='F'"}],"mark":{"type":"text"},"encoding":{"x":{"datum":7.3,"type":"quantitative","axis":{"title":"Time after surgery(months)","values":[0,10,20,30,40,50,60]}},"y":{"datum":4.7,"type":"quantitative","axis":{"title":"Overall survival%","values":[0,20,40,60,80,100]}},"text":{"value":"Without postoperative chemotherapy"}}}
 ]},
{"title":"G","width":323,"height":184,
 "layer":[
  {"data":{"name":"curves"},"transform":[{"filter":"datum.p==='G'"}],"mark":{"type":"line","interpolate":"step-after"},
   "encoding":{"x":{"field":"t","type":"quantitative","scale":{"domain":[-3,62],"nice":false,"zero":false},"axis":{"title":"Time after surgery(months)","values":[0,10,20,30,40,50,60]}},"y":{"field":"s","type":"quantitative","scale":{"domain":[-5.5,105.5],"nice":false,"zero":false},"axis":{"title":"Overall survival%","values":[0,20,40,60,80,100]}},"color":{"field":"g","type":"nominal","scale":{"domain":["chemo","none"],"range":["#e8283c","#3a8ee6"]},"legend":null}}},
  {"data":{"name":"censors"},"transform":[{"filter":"datum.p==='G'"}],"mark":{"type":"tick","orient":"vertical"},
   "encoding":{"x":{"field":"t","type":"quantitative","axis":{"title":"Time after surgery(months)","values":[0,10,20,30,40,50,60]}},"y":{"field":"s","type":"quantitative","axis":{"title":"Overall survival%","values":[0,20,40,60,80,100]}},"color":{"field":"g","type":"nominal","legend":null}}},
  {"data":{"name":"labels"},"transform":[{"filter":"datum.p==='G'"}],"mark":{"type":"text","fontStyle":"italic"},"encoding":{"x":{"datum":0,"type":"quantitative","axis":{"title":"Time after surgery(months)","values":[0,10,20,30,40,50,60]}},"y":{"datum":20,"type":"quantitative","axis":{"title":"Overall survival%","values":[0,20,40,60,80,100]}},"text":{"value":"P"}}},
  {"data":{"name":"labels"},"transform":[{"filter":"datum.p==='G'"}],"mark":{"type":"text","dx":7},"encoding":{"x":{"datum":0,"type":"quantitative","axis":{"title":"Time after surgery(months)","values":[0,10,20,30,40,50,60]}},"y":{"datum":20,"type":"quantitative","axis":{"title":"Overall survival%","values":[0,20,40,60,80,100]}},"text":{"field":"pv"}}},
  {"data":{"name":"labels"},"transform":[{"filter":"datum.p==='G'"}],"mark":{"type":"rule","color":"#ee1c2e"},"encoding":{"x":{"datum":-0.3,"type":"quantitative","axis":{"title":"Time after surgery(months)","values":[0,10,20,30,40,50,60]}},"x2":{"datum":6.3},"y":{"datum":12.3,"type":"quantitative","axis":{"title":"Overall survival%","values":[0,20,40,60,80,100]}}}},
  {"data":{"name":"labels"},"transform":[{"filter":"datum.p==='G'"}],"mark":{"type":"rule","color":"#2e90e8"},"encoding":{"x":{"datum":-0.3,"type":"quantitative","axis":{"title":"Time after surgery(months)","values":[0,10,20,30,40,50,60]}},"x2":{"datum":6.3},"y":{"datum":4.7,"type":"quantitative","axis":{"title":"Overall survival%","values":[0,20,40,60,80,100]}}}},
  {"data":{"name":"labels"},"transform":[{"filter":"datum.p==='G'"}],"mark":{"type":"text"},"encoding":{"x":{"datum":7.3,"type":"quantitative","axis":{"title":"Time after surgery(months)","values":[0,10,20,30,40,50,60]}},"y":{"datum":12.3,"type":"quantitative","axis":{"title":"Overall survival%","values":[0,20,40,60,80,100]}},"text":{"value":"Postoperative chemotherapy"}}},
  {"data":{"name":"labels"},"transform":[{"filter":"datum.p==='G'"}],"mark":{"type":"text"},"encoding":{"x":{"datum":7.3,"type":"quantitative","axis":{"title":"Time after surgery(months)","values":[0,10,20,30,40,50,60]}},"y":{"datum":4.7,"type":"quantitative","axis":{"title":"Overall survival%","values":[0,20,40,60,80,100]}},"text":{"value":"Without postoperative chemotherapy"}}}
 ]},
{"title":"H","width":323,"height":184,
 "layer":[
  {"data":{"name":"curves"},"transform":[{"filter":"datum.p==='H'"}],"mark":{"type":"line","interpolate":"step-after"},
   "encoding":{"x":{"field":"t","type":"quantitative","scale":{"domain":[-3,62],"nice":false,"zero":false},"axis":{"title":"Time after surgery(months)","values":[0,10,20,30,40,50,60]}},"y":{"field":"s","type":"quantitative","scale":{"domain":[-5.5,105.5],"nice":false,"zero":false},"axis":{"title":"Overall survival%","values":[0,20,40,60,80,100]}},"color":{"field":"g","type":"nominal","scale":{"domain":["chemo","none"],"range":["#e8283c","#3a8ee6"]},"legend":null}}},
  {"data":{"name":"censors"},"transform":[{"filter":"datum.p==='H'"}],"mark":{"type":"tick","orient":"vertical"},
   "encoding":{"x":{"field":"t","type":"quantitative","axis":{"title":"Time after surgery(months)","values":[0,10,20,30,40,50,60]}},"y":{"field":"s","type":"quantitative","axis":{"title":"Overall survival%","values":[0,20,40,60,80,100]}},"color":{"field":"g","type":"nominal","legend":null}}},
  {"data":{"name":"labels"},"transform":[{"filter":"datum.p==='H'"}],"mark":{"type":"text","fontStyle":"italic"},"encoding":{"x":{"datum":0,"type":"quantitative","axis":{"title":"Time after surgery(months)","values":[0,10,20,30,40,50,60]}},"y":{"datum":20,"type":"quantitative","axis":{"title":"Overall survival%","values":[0,20,40,60,80,100]}},"text":{"value":"P"}}},
  {"data":{"name":"labels"},"transform":[{"filter":"datum.p==='H'"}],"mark":{"type":"text","dx":7,"fontStyle":"italic"},"encoding":{"x":{"datum":0,"type":"quantitative","axis":{"title":"Time after surgery(months)","values":[0,10,20,30,40,50,60]}},"y":{"datum":20,"type":"quantitative","axis":{"title":"Overall survival%","values":[0,20,40,60,80,100]}},"text":{"field":"pv"}}},
  {"data":{"name":"labels"},"transform":[{"filter":"datum.p==='H'"}],"mark":{"type":"rule","color":"#ee1c2e"},"encoding":{"x":{"datum":-0.3,"type":"quantitative","axis":{"title":"Time after surgery(months)","values":[0,10,20,30,40,50,60]}},"x2":{"datum":6.3},"y":{"datum":12.3,"type":"quantitative","axis":{"title":"Overall survival%","values":[0,20,40,60,80,100]}}}},
  {"data":{"name":"labels"},"transform":[{"filter":"datum.p==='H'"}],"mark":{"type":"rule","color":"#2e90e8"},"encoding":{"x":{"datum":-0.3,"type":"quantitative","axis":{"title":"Time after surgery(months)","values":[0,10,20,30,40,50,60]}},"x2":{"datum":6.3},"y":{"datum":4.7,"type":"quantitative","axis":{"title":"Overall survival%","values":[0,20,40,60,80,100]}}}},
  {"data":{"name":"labels"},"transform":[{"filter":"datum.p==='H'"}],"mark":{"type":"text"},"encoding":{"x":{"datum":7.3,"type":"quantitative","axis":{"title":"Time after surgery(months)","values":[0,10,20,30,40,50,60]}},"y":{"datum":12.3,"type":"quantitative","axis":{"title":"Overall survival%","values":[0,20,40,60,80,100]}},"text":{"value":"Postoperative chemotherapy"}}},
  {"data":{"name":"labels"},"transform":[{"filter":"datum.p==='H'"}],"mark":{"type":"text"},"encoding":{"x":{"datum":7.3,"type":"quantitative","axis":{"title":"Time after surgery(months)","values":[0,10,20,30,40,50,60]}},"y":{"datum":4.7,"type":"quantitative","axis":{"title":"Overall survival%","values":[0,20,40,60,80,100]}},"text":{"value":"Without postoperative chemotherapy"}}}
 ]}
]
}
